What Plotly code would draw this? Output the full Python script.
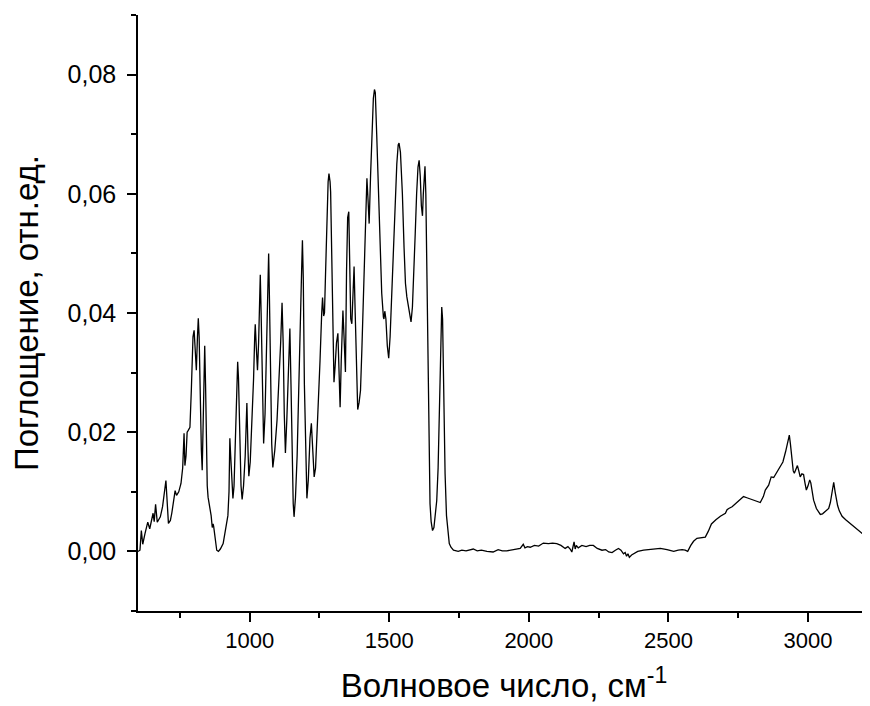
import plotly.graph_objects as go

# wavenumber, cm-1
wavenumber = [
    600, 607, 612, 617, 625, 635, 642, 654, 658, 663, 669, 680, 688, 700, 709, 716, 721, 733, 738, 746,
    754, 760, 765, 768, 772, 776, 780, 786, 791, 797, 801, 806, 809, 813, 816, 819, 823, 827, 830, 833,
    836, 839, 842, 845, 848, 851, 855, 858, 862, 866, 869, 871, 876, 882, 888, 895, 905, 912, 918, 922,
    926, 929, 932, 936, 940, 944, 950, 955, 957, 960, 965, 969, 973, 978, 984, 990, 994, 997, 1002, 1008,
    1014, 1018, 1020, 1024, 1028, 1032, 1036, 1038, 1041, 1045, 1050, 1055, 1060, 1065, 1068, 1071, 1075, 1079, 1083, 1090,
    1098, 1105, 1111, 1116, 1120, 1124, 1128, 1133, 1138, 1144, 1148, 1152, 1156, 1159, 1164, 1170, 1176, 1182, 1186, 1189,
    1192, 1196, 1201, 1205, 1210, 1216, 1221, 1225, 1231, 1236, 1241, 1246, 1252, 1258, 1261, 1265, 1268, 1272, 1277, 1281,
    1284, 1288, 1290, 1293, 1296, 1299, 1302, 1306, 1311, 1316, 1320, 1324, 1328, 1334, 1338, 1343, 1347, 1351, 1355, 1359,
    1362, 1366, 1370, 1374, 1378, 1382, 1387, 1392, 1397, 1402, 1408, 1414, 1418, 1420, 1424, 1428, 1433, 1438, 1443, 1447,
    1450, 1455, 1461, 1467, 1473, 1479, 1481, 1484, 1488, 1493, 1498, 1503, 1509, 1515, 1521, 1527, 1532, 1535, 1540, 1547,
    1553, 1558, 1563, 1570, 1578, 1583, 1588, 1593, 1598, 1603, 1607, 1611, 1615, 1619, 1622, 1625, 1628, 1631, 1633, 1636,
    1639, 1642, 1646, 1650, 1655, 1660, 1665, 1670, 1675, 1680, 1684, 1688, 1691, 1695, 1700, 1705, 1710, 1715, 1721, 1730,
    1747, 1760, 1775, 1790, 1801, 1815, 1830, 1850, 1872, 1890, 1905, 1921, 1945, 1969, 1980, 1986, 1995, 2005, 2020, 2035,
    2052, 2070, 2085, 2100, 2115, 2130, 2140, 2148, 2154, 2158, 2162, 2166, 2170, 2177, 2190, 2205, 2218, 2231, 2245, 2262,
    2275, 2286, 2298, 2310, 2321, 2330, 2339, 2345, 2350, 2355, 2360, 2368, 2375, 2390, 2411, 2430, 2450, 2471, 2495, 2519,
    2535, 2549, 2560, 2569, 2580, 2590, 2602, 2614, 2632, 2643, 2654, 2670, 2686, 2704, 2710, 2716, 2728, 2740, 2755, 2769,
    2781, 2800, 2817, 2829, 2840, 2847, 2859, 2864, 2868, 2877, 2890, 2900, 2910, 2920, 2928, 2933, 2937, 2942, 2947, 2951,
    2957, 2962, 2967, 2972, 2978, 2984, 2989, 2994, 3000, 3006, 3010, 3015, 3020, 3030, 3038, 3044, 3052, 3060, 3068, 3074,
    3080, 3086, 3092, 3097, 3102, 3106, 3112, 3122, 3135, 3150, 3164, 3180, 3194, 3205, 3212, 3218, 3224,
]

# absorbance, rel. units
absorbance = [
    .0000, .0002, .0035, .0012, .0030, .0049, .0038, .0064, .0050, .0079, .0049, .0058, .0075, .0119, .0047, .0052, .0064, .0102, .0094, .0100,
    .0114, .0140, .0198, .0144, .0160, .0200, .0203, .0208, .0270, .0360, .0371, .0330, .0304, .0360, .0391, .0360, .0250, .0170, .0136, .0200,
    .0300, .0345, .0280, .0170, .0110, .0091, .0080, .0077, .0060, .0040, .0046, .0042, .0018, .0002, .0000, .0004, .0013, .0030, .0046, .0060,
    .0100, .0190, .0160, .0115, .0089, .0110, .0190, .0290, .0318, .0290, .0160, .0110, .0087, .0110, .0160, .0249, .0170, .0126, .0150, .0210,
    .0290, .0360, .0381, .0340, .0304, .0350, .0440, .0464, .0400, .0270, .0181, .0230, .0330, .0450, .0500, .0420, .0280, .0180, .0141, .0170,
    .0220, .0280, .0350, .0417, .0350, .0230, .0165, .0220, .0300, .0374, .0280, .0150, .0080, .0058, .0090, .0160, .0260, .0380, .0470, .0522,
    .0460, .0280, .0140, .0089, .0120, .0190, .0215, .0170, .0125, .0140, .0190, .0240, .0320, .0400, .0426, .0395, .0400, .0470, .0560, .0620,
    .0634, .0620, .0603, .0520, .0420, .0330, .0284, .0310, .0350, .0366, .0300, .0242, .0320, .0404, .0360, .0301, .0470, .0560, .0570, .0460,
    .0390, .0382, .0440, .0478, .0400, .0300, .0238, .0250, .0270, .0340, .0433, .0540, .0610, .0626, .0590, .0550, .0630, .0710, .0760, .0775,
    .0770, .0700, .0600, .0500, .0433, .0393, .0390, .0403, .0390, .0345, .0324, .0360, .0430, .0510, .0589, .0650, .0682, .0685, .0670, .0600,
    .0510, .0450, .0427, .0405, .0385, .0410, .0460, .0533, .0600, .0645, .0656, .0630, .0580, .0563, .0600, .0640, .0646, .0600, .0530, .0430,
    .0270, .0150, .0080, .0050, .0035, .0040, .0060, .0085, .0140, .0230, .0340, .0410, .0390, .0270, .0130, .0060, .0030, .0013, .0007, .0002,
    .0000, .0002, .0001, .0003, .0004, .0001, .0002, .0000, -.0001, .0003, .0001, .0001, .0003, .0005, .0012, .0006, .0008, .0007, .0010, .0009,
    .0014, .0013, .0014, .0013, .0010, .0005, .0008, .0004, -.0001, .0006, .0016, .0004, .0010, .0006, .0010, .0008, .0010, .0010, .0005, .0002,
    .0003, -.0001, -.0002, .0002, .0005, .0002, -.0004, -.0002, -.0008, -.0004, -.0010, -.0006, -.0004, .0000, .0002, .0003, .0004, .0005, .0003, .0000,
    .0002, .0003, .0002, .0000, .0010, .0017, .0022, .0023, .0024, .0034, .0046, .0053, .0059, .0064, .0070, .0072, .0075, .0080, .0086, .0092,
    .0090, .0087, .0084, .0082, .0092, .0103, .0111, .0120, .0125, .0124, .0135, .0142, .0150, .0168, .0185, .0195, .0180, .0150, .0135, .0131,
    .0138, .0144, .0135, .0125, .0130, .0129, .0115, .0103, .0110, .0120, .0115, .0098, .0086, .0072, .0065, .0062, .0063, .0066, .0070, .0072,
    .0082, .0100, .0116, .0100, .0083, .0077, .0068, .0059, .0053, .0047, .0041, .0035, .0030, .0028, .0027, .0024, .0020,
]

X_TITLE = 'Волновое число, см<sup>-1</sup>'
Y_TITLE = 'Поглощение, отн.ед.'

FONT = 'Liberation Sans, Arial, sans-serif'

fig = go.Figure()
fig.add_trace(go.Scatter(x=wavenumber, y=absorbance, mode='lines',
                         line=dict(color='black', width=1.3), showlegend=False))

axis_style = dict(showline=True, linecolor='black', linewidth=1.5, mirror=False,
                  ticks='outside', ticklen=9, tickwidth=1.5, tickcolor='black',
                  showgrid=False, zeroline=False)
minor_style = dict(ticks='outside', ticklen=5, tickwidth=1.5, tickcolor='black')

fig.update_xaxes(range=[600, 3222], tick0=0, dtick=500,
                 minor=dict(dtick=250, **minor_style),
                 tickfont=dict(family=FONT, size=22, color='black'),
                 title=dict(text=X_TITLE, font=dict(family=FONT, size=33, color='black'), standoff=22),
                 **axis_style)
fig.update_yaxes(range=[-0.01, 0.09], tick0=0, dtick=0.02, tickformat='.2f',
                 minor=dict(dtick=0.01, **minor_style),
                 tickfont=dict(family=FONT, size=25, color='black'), ticklabelstandoff=6,
                 title=dict(text=Y_TITLE, font=dict(family=FONT, size=33, color='black'), standoff=34),
                 **axis_style)

# page body adds an 8px margin, so the figure is 8px smaller and shifted
fig.update_layout(width=862, height=698, separators=', ',
                  plot_bgcolor='white', paper_bgcolor='white',
                  margin=dict(l=130, r=0, t=7, b=95))

fig.write_html('out.html')
